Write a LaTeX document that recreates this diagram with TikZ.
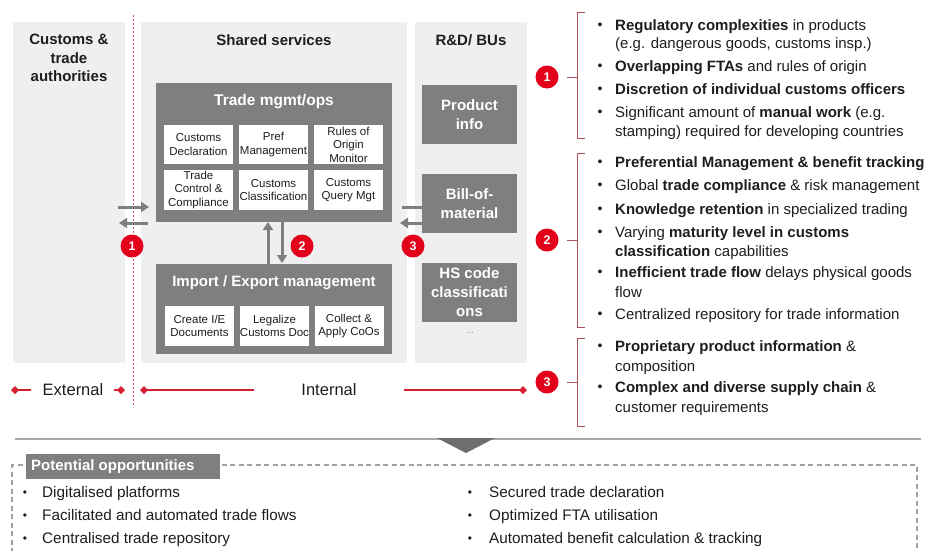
\documentclass[tikz,border=0pt]{standalone}
\usepackage{fontspec}
\setmainfont{Liberation Sans}
\usetikzlibrary{arrows.meta}
\definecolor{panelgray}{HTML}{EFEFEF}
\definecolor{boxgray}{HTML}{7F7F7F}
\definecolor{txt}{HTML}{1E1E1E}
\definecolor{numred}{HTML}{E2001A}
\definecolor{linered}{HTML}{D42030}
\definecolor{brk}{HTML}{B0505C}
\definecolor{arrowgray}{HTML}{7F7F7F}
\definecolor{sepgray}{HTML}{A6A6A6}
\definecolor{trigray}{HTML}{6E6E6E}
\definecolor{dashgray}{HTML}{A0A0A0}
\tikzset{
  panel/.style={fill=panelgray, anchor=north west, inner sep=0pt},
  darkbox/.style={fill=boxgray, anchor=north west, inner sep=0pt},
  whitebox/.style={fill=white, inner sep=0pt, align=center, text=txt,
     minimum width=69pt, minimum height=39pt, font=\fontsize{11.5}{13.5}\selectfont},
  rdbox/.style={fill=boxgray, inner sep=0pt, align=center, text=white,
     minimum width=95pt, minimum height=59pt, font=\bfseries\fontsize{15}{19}\selectfont},
  coltitle/.style={align=center, text=txt, inner sep=0pt, font=\bfseries\fontsize{15}{18.5}\selectfont},
  boxtitle/.style={text=white, inner sep=0pt, font=\bfseries\fontsize{15.5}{18}\selectfont},
  numc/.style={circle, fill=numred, text=white, font=\bfseries\fontsize{12.5}{12.5}\selectfont,
     minimum size=23pt, inner sep=0pt},
  garrow/.style={draw=arrowgray, line width=3pt, -{Triangle[length=8pt,width=10pt]}},
  gline/.style={draw=arrowgray, line width=3pt},
  redln/.style={draw=linered, line width=1.8pt},
  brack/.style={draw=brk, line width=1pt},
  bl/.style={anchor=west, inner sep=0pt, text=txt, text height=11pt, text depth=3pt,
     font=\fontsize{15}{19}\selectfont},
  dot/.style={inner sep=0pt, text=txt, font=\fontsize{14}{14}\selectfont},
  sdot/.style={inner sep=0pt, text=txt, font=\fontsize{12}{12}\selectfont},
  bb/.style={anchor=west, inner sep=0pt, text=txt, text height=10.5pt, text depth=3pt,
     font=\fontsize{15.3}{18}\selectfont},
  extlbl/.style={inner sep=0pt, text=txt, font=\fontsize{16.5}{18}\selectfont},
  dtip/.tip={Diamond[length=8pt,width=8pt]},
}
\begin{document}
\begin{tikzpicture}[x=1pt,y=-1pt]
\useasboundingbox (0,0) rectangle (936,550);
\fill[white] (0,0) rectangle (936,550);

% columns
\node[panel, minimum width=112pt, minimum height=341pt] (cust) at (13,22) {};
\node[panel, minimum width=266pt, minimum height=341pt] (shared) at (141,22) {};
\node[panel, minimum width=112pt, minimum height=341pt] (rd) at (415,22) {};

\node[coltitle] (custT) at (69,58) {Customs \&\\trade\\authorities};
\node[coltitle] (sharedT) at (274,40) {Shared services};
\node[coltitle] (rdT) at (471,40) {R\&D/ BUs};

% dotted boundary
\coordinate (dTop) at (133,15);
\coordinate (dBot) at (133,405);
\draw[draw=linered!80, line width=0.9pt, dash pattern=on 1.8pt off 2.2pt] (dTop) -- (dBot);

% trade mgmt box
\node[darkbox, minimum width=236pt, minimum height=139pt] (trade) at (156,83) {};
\node[boxtitle] (tradeT) at (274,102) {Trade mgmt/ops};
\node[whitebox] (b11) at (198.5,144.5) {Customs\\Declaration};
\node[whitebox] (b12) at (273.5,144.5) {Pref\\Management};
\node[whitebox] (b13) at (348.5,144.5) {Rules of\\Origin\\Monitor};
\node[whitebox, minimum height=40pt] (b21) at (198.5,190) {Trade\\Control \&\\Compliance};
\node[whitebox, minimum height=40pt] (b22) at (273.5,190) {Customs\\Classification};
\node[whitebox, minimum height=40pt] (b23) at (348.5,190) {Customs\\Query Mgt};

% import/export box
\node[darkbox, minimum width=236pt, minimum height=90pt] (imex) at (156,264) {};
\node[boxtitle, font=\bfseries\fontsize{15}{18}\selectfont] (imexT) at (274,283) {Import / Export management};
\node[whitebox, minimum height=40pt] (c1) at (199.5,326) {Create I/E\\Documents};
\node[whitebox, minimum height=40pt] (c2) at (274.5,326) {Legalize\\Customs Doc};
\node[whitebox, minimum height=40pt] (c3) at (349,326) {Collect \&\\Apply CoOs};

% R&D boxes
\node[rdbox] (prod) at (469.5,114.5) {Product\\info};
\node[rdbox] (bom) at (469.5,203.5) {Bill-of-\\material};
\node[rdbox] (hs) at (469.5,292.5) {HS code\\classificati\\ons};
\node[inner sep=0pt, text=black!45, font=\fontsize{9}{9}\selectfont] (dots) at (470,333) {...};

% arrows
\coordinate (la1) at (118,207); \coordinate (la2) at (149,207);
\coordinate (lb1) at (148,223); \coordinate (lb2) at (119,223);
\draw[garrow] (la1) -- (la2);
\draw[garrow] (lb1) -- (lb2);
\coordinate (up1) at (268,264); \coordinate (up2) at (268,222);
\coordinate (dn1) at (282,222); \coordinate (dn2) at (282,263);
\draw[garrow] (up1) -- (up2);
\draw[garrow] (dn1) -- (dn2);
\coordinate (ra1) at (402,207); \coordinate (ra2) at (423,207);
\coordinate (rb1) at (423,223); \coordinate (rb2) at (400,223);
\draw[gline] (ra1) -- (ra2);
\draw[garrow] (rb1) -- (rb2);

% numbered circles in diagram
\node[numc] (n1) at (132,246) {1};
\node[numc] (n2) at (302,246) {2};
\node[numc] (n3) at (413,246) {3};

% external / internal
\node[extlbl] (ext) at (73,390) {External};
\node[extlbl] (int) at (329,390) {Internal};
\coordinate (e1) at (11,390); \coordinate (e2) at (31,390);
\coordinate (e3) at (114,390); \coordinate (e4) at (125,390);
\coordinate (i1) at (140,390); \coordinate (i2) at (254,390);
\coordinate (i3) at (404,390); \coordinate (i4) at (527,390);
\draw[redln, {dtip}-] (e1) -- (e2);
\draw[redln, -{dtip}] (e3) -- (e4);
\draw[redln, {dtip}-] (i1) -- (i2);
\draw[redln, -{dtip}] (i3) -- (i4);

% brackets and numbers on the right
\node[numc] (r1) at (547,77) {1};
\node[numc] (r2) at (547,240) {2};
\node[numc] (r3) at (547,382) {3};
\coordinate (k1a) at (585,12); \coordinate (k1b) at (577,12); \coordinate (k1c) at (577,138); \coordinate (k1d) at (585,138);
\coordinate (k1t) at (567,77); \coordinate (k1u) at (577,77);
\draw[brack] (k1a) -- (k1b) -- (k1c) -- (k1d);
\draw[brack] (k1t) -- (k1u);
\coordinate (k2a) at (585,153); \coordinate (k2b) at (577,153); \coordinate (k2c) at (577,327); \coordinate (k2d) at (585,327);
\coordinate (k2t) at (567,240); \coordinate (k2u) at (577,240);
\draw[brack] (k2a) -- (k2b) -- (k2c) -- (k2d);
\draw[brack] (k2t) -- (k2u);
\coordinate (k3a) at (585,338); \coordinate (k3b) at (577,338); \coordinate (k3c) at (577,426); \coordinate (k3d) at (585,426);
\coordinate (k3t) at (567,382); \coordinate (k3u) at (577,382);
\draw[brack] (k3a) -- (k3b) -- (k3c) -- (k3d);
\draw[brack] (k3t) -- (k3u);

% bullets group 1
\node[dot] (d1) at (600,26) {•};
\node[bl] (t1a) at (615,26) {\textbf{Regulatory complexities} in products};
\node[bl] (t1b) at (615,44) {(e.g. dangerous goods, customs insp.)};
\node[dot] (d2) at (600,67) {•};
\node[bl] (t2) at (615,67) {\textbf{Overlapping FTAs} and rules of origin};
\node[dot] (d3) at (600,90) {•};
\node[bl] (t3) at (615,90) {\textbf{Discretion of individual customs officers}};
\node[dot] (d4) at (600,113) {•};
\node[bl] (t4a) at (615,113) {Significant amount of \textbf{manual work} (e.g.};
\node[bl] (t4b) at (615,132) {stamping) required for developing countries};
% group 2
\node[dot] (d5) at (600,163) {•};
\node[bl] (t5) at (615,163) {\textbf{Preferential Management \& benefit tracking}};
\node[dot] (d6) at (600,186) {•};
\node[bl] (t6) at (615,186) {Global \textbf{trade compliance} \& risk management};
\node[dot] (d7) at (600,210) {•};
\node[bl] (t7) at (615,210) {\textbf{Knowledge retention} in specialized trading};
\node[dot] (d8) at (600,233) {•};
\node[bl] (t8a) at (615,233) {Varying \textbf{maturity level in customs}};
\node[bl] (t8b) at (615,252) {\textbf{classification} capabilities};
\node[dot] (d9) at (600,273) {•};
\node[bl] (t9a) at (615,273) {\textbf{Inefficient trade flow} delays physical goods};
\node[bl] (t9b) at (615,293) {flow};
\node[dot] (d10) at (600,315) {•};
\node[bl] (t10) at (615,315) {Centralized repository for trade information};
% group 3
\node[dot] (d11) at (600,347) {•};
\node[bl] (t11a) at (615,347) {\textbf{Proprietary product information} \&};
\node[bl] (t11b) at (615,367) {composition};
\node[dot] (d12) at (600,388) {•};
\node[bl] (t12a) at (615,388) {\textbf{Complex and diverse supply chain} \&};
\node[bl] (t12b) at (615,408) {customer requirements};

% bottom section
\coordinate (s1) at (15,439); \coordinate (s2) at (921,439);
\draw[draw=sepgray, line width=2pt] (s1) -- (s2);
\coordinate (tr1) at (437,438); \coordinate (tr2) at (495,438); \coordinate (tr3) at (466,453);
\fill[trigray] (tr1) -- (tr2) -- (tr3) -- cycle;
\coordinate (q1) at (12,570); \coordinate (q2) at (12,465); \coordinate (q3) at (917,465); \coordinate (q4) at (917,570);
\draw[draw=dashgray, line width=1.3pt, dash pattern=on 5pt off 3.5pt] (q1) -- (q2) -- (q3) -- (q4);
\node[darkbox, minimum width=194pt, minimum height=25pt] (pot) at (26,454) {};
\node[anchor=west, inner sep=0pt, text=white, font=\bfseries\fontsize{15}{17}\selectfont] (potT) at (31,466.5) {Potential opportunities};

\node[sdot] (e1d) at (25,494) {•};
\node[bb] (o1) at (42,494) {Digitalised platforms};
\node[sdot] (e2d) at (25,517) {•};
\node[bb] (o2) at (42,517) {Facilitated and automated trade flows};
\node[sdot] (e3d) at (25,540) {•};
\node[bb] (o3) at (42,540) {Centralised trade repository};
\node[sdot] (f1d) at (470,494) {•};
\node[bb] (o4) at (489,494) {Secured trade declaration};
\node[sdot] (f2d) at (470,517) {•};
\node[bb] (o5) at (489,517) {Optimized FTA utilisation};
\node[sdot] (f3d) at (470,540) {•};
\node[bb] (o6) at (489,540) {Automated benefit calculation \& tracking};
\end{tikzpicture}
\end{document}
